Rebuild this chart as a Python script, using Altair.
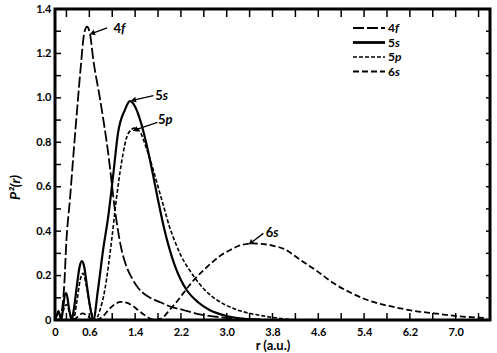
import math
import altair as alt
import pandas as pd

# ---------------- data ----------------
r_4f = [0.0, 0.08, 0.12, 0.16, 0.2, 0.26, 0.33, 0.4, 0.45, 0.51, 0.56, 0.61, 0.67, 0.79, 0.93,
        1.05, 1.16, 1.25, 1.34, 1.45, 1.6, 1.84, 2.0, 2.24, 2.45, 2.66, 3.0, 3.4, 4.0]
p_4f = [0.0, 0.0, 0.04, 0.15, 0.36, 0.54, 0.77, 0.99, 1.14, 1.29, 1.32, 1.29, 1.17, 0.99, 0.75,
        0.49, 0.32, 0.24, 0.19, 0.145, 0.11, 0.08, 0.062, 0.045, 0.03, 0.02, 0.01, 0.004, 0.0]

r_5s = [0.0, 0.03, 0.06, 0.09, 0.11, 0.14, 0.18, 0.2, 0.24, 0.29, 0.33, 0.38, 0.43, 0.47, 0.51,
        0.56, 0.62, 0.67, 0.75, 0.84, 0.93, 1.02, 1.1, 1.22, 1.31, 1.4, 1.5, 1.6, 1.7, 1.8, 1.9,
        2.0, 2.1, 2.2, 2.3, 2.5, 2.7, 3.0, 3.3, 3.6]
p_5s = [0.0, 0.02, 0.04, 0.015, 0.0, 0.05, 0.12, 0.12, 0.06, 0.0, 0.05, 0.15, 0.24, 0.265, 0.24,
        0.15, 0.05, 0.0, 0.135, 0.315, 0.465, 0.66, 0.84, 0.945, 0.985, 0.96, 0.89, 0.79, 0.67,
        0.54, 0.42, 0.32, 0.24, 0.18, 0.135, 0.08, 0.045, 0.018, 0.005, 0.0]

r_5p = [0.0, 0.08, 0.14, 0.2, 0.26, 0.32, 0.38, 0.44, 0.49, 0.55, 0.62, 0.7, 0.78, 0.87, 0.99,
        1.07, 1.16, 1.28, 1.4, 1.5, 1.6, 1.7, 1.8, 1.9, 2.0, 2.1, 2.2, 2.35, 2.5, 2.7, 2.83, 3.0,
        3.19, 3.4, 3.6, 3.9, 4.2]
p_5p = [0.0, 0.01, 0.04, 0.07, 0.03, 0.0, 0.08, 0.18, 0.21, 0.15, 0.05, 0.0, 0.04, 0.135, 0.36,
        0.54, 0.705, 0.84, 0.865, 0.84, 0.77, 0.69, 0.6, 0.51, 0.42, 0.35, 0.29, 0.225, 0.17,
        0.115, 0.09, 0.065, 0.045, 0.03, 0.02, 0.008, 0.0]

r_6s = [0.0, 0.3, 0.4, 0.48, 0.56, 0.66, 0.72, 0.85, 0.95, 1.05, 1.15, 1.25, 1.35, 1.45, 1.55,
        1.65, 1.75, 1.84, 1.92, 2.0, 2.12, 2.24, 2.36, 2.48, 2.62, 2.77, 2.92, 3.06, 3.2, 3.36,
        3.45, 3.6, 3.8, 4.0, 4.29, 4.58, 4.87, 5.15, 5.46, 5.75, 6.04, 6.3, 6.62, 6.9, 7.2, 7.55]
p_6s = [0.0, 0.0, 0.015, 0.03, 0.02, 0.002, 0.0, 0.02, 0.05, 0.072, 0.082, 0.078, 0.065, 0.045,
        0.025, 0.008, 0.0, 0.005, 0.02, 0.045, 0.08, 0.12, 0.16, 0.195, 0.23, 0.265, 0.295, 0.315,
        0.333, 0.343, 0.345, 0.343, 0.335, 0.32, 0.27, 0.22, 0.165, 0.125, 0.09, 0.068, 0.052,
        0.04, 0.03, 0.021, 0.014, 0.008]

series_num = ["4", "5", "5", "6"]
series_let = ["f", "s", "p", "s"]

x_label_values = [0, 0.6, 1.4, 2.2, 3.0, 3.8, 4.6, 5.4, 6.2, 7.0]
x_tick_values = [round(0.2 + 0.4 * i, 1) for i in range(19)]
y_label_values = [0, 0.2, 0.4, 0.6, 0.8, 1.0, 1.2, 1.4]
y_tick_values = [round(0.1 * i, 1) for i in range(1, 14)]

# annotation: text anchor (r, p), arrow start (r, p), arrow end (r, p)
ann_text_r = [1.02, 1.75, 1.80, 3.68]
ann_text_p = [1.31, 1.01, 0.90, 0.39]
ann_from_r = [0.91, 1.72, 1.79, 3.64]
ann_from_p = [1.315, 1.01, 0.89, 0.39]
ann_to_r = [0.65, 1.37, 1.40, 3.42]
ann_to_p = [1.29, 0.99, 0.856, 0.347]

# ---------------- layout / style ----------------
W, H = 435, 311
XMAX, YMAX = 7.6, 1.4
FONT = "Lato"
dashes = [[11, 3], None, [4, 2], [6, 3]]
widths = [1.8, 2.2, 1.6, 1.8]

xs = alt.Scale(domain=[0, XMAX], nice=False, zero=False)
ys = alt.Scale(domain=[0, YMAX], nice=False, zero=False)
lbl = "datum.value == 0 ? '0' : format(datum.value, '.1f')"
x_axis = alt.Axis(values=x_label_values, labelExpr=lbl, domain=False, ticks=False, grid=False,
                  labelFont=FONT, labelFontWeight="bold", labelFontSize=11, labelColor="black",
                  labelPadding=6, title="r (a.u.)", titleFont=FONT, titleFontSize=13,
                  titleFontWeight="bold", titleColor="black", titlePadding=2, labelFlush=False)
y_axis = alt.Axis(values=y_label_values, labelExpr=lbl, domain=False, ticks=False, grid=False,
                  labelFont=FONT, labelFontWeight="bold", labelFontSize=11, labelColor="black",
                  labelPadding=4, title="P²(r)", titleFont=FONT, titleFontSize=14,
                  titleFontWeight="bold", titleFontStyle="italic", titleColor="black",
                  titleX=-40, titleY=178, titleAngle=270, titleAlign="center",
                  titleBaseline="middle", labelFlush=False)

X = alt.X("r:Q", scale=xs, axis=x_axis)
Y = alt.Y("p:Q", scale=ys, axis=y_axis)

layers = []
all_r = [r_4f, r_5s, r_5p, r_6s]
all_p = [p_4f, p_5s, p_5p, p_6s]
for i in range(4):
    df = pd.DataFrame({"r": all_r[i], "p": all_p[i]})
    kw = dict(color="black", strokeWidth=widths[i], interpolate="monotone", clip=True)
    if dashes[i] is not None:
        kw["strokeDash"] = dashes[i]
    layers.append(alt.Chart(df).mark_line(**kw).encode(x=X, y=Y))

# inner ticks
bt = pd.DataFrame({"r": x_tick_values})
layers.append(alt.Chart(bt).mark_rule(color="black", strokeWidth=1.5).encode(
    x=X, y=alt.value(H), y2=alt.value(H - 7)))
layers.append(alt.Chart(bt).mark_rule(color="black", strokeWidth=1.5).encode(
    x=X, y=alt.value(0), y2=alt.value(8)))
lt = pd.DataFrame({"p": y_tick_values})
layers.append(alt.Chart(lt).mark_rule(color="black", strokeWidth=1.5).encode(
    y=Y, x=alt.value(0), x2=alt.value(6)))
layers.append(alt.Chart(lt).mark_rule(color="black", strokeWidth=1.5).encode(
    y=Y, x=alt.value(W), x2=alt.value(W - 4)))

# annotations
ann = pd.DataFrame({"r": ann_text_r, "p": ann_text_p, "num": series_num, "let": series_let})
layers.append(alt.Chart(ann).mark_text(align="left", baseline="middle", font=FONT,
                                       fontWeight="bold", fontSize=13, color="black").encode(
    x=X, y=Y, text="num:N"))
layers.append(alt.Chart(ann).mark_text(align="left", baseline="middle", font=FONT, dx=7.5,
                                       fontWeight="bold", fontStyle="italic", fontSize=13,
                                       color="black").encode(x=X, y=Y, text="let:N"))
arr = pd.DataFrame({"r": ann_from_r, "p": ann_from_p, "r2": ann_to_r, "p2": ann_to_p})
layers.append(alt.Chart(arr).mark_rule(color="black", strokeWidth=1.3).encode(
    x=X, y=Y, x2="r2:Q", y2="p2:Q"))
px_x, px_y = W / XMAX, H / YMAX
angles = []
for a, b, c, d in zip(ann_from_r, ann_from_p, ann_to_r, ann_to_p):
    dx = (c - a) * px_x
    dy = -(d - b) * px_y
    ang = math.degrees(math.atan2(dy, dx)) - 180.0
    angles.append(ang % 360)
heads = pd.DataFrame({"r": ann_to_r, "p": ann_to_p, "ang": angles})
layers.append(alt.Chart(heads).mark_point(shape="triangle-left", filled=True, color="black",
                                          size=35, opacity=1).encode(
    x=X, y=Y, angle=alt.Angle("ang:Q", scale=None)))

# legend (drawn by hand to match the reference)
leg_x0, leg_x1, leg_tx, leg_y0, leg_dy = 298, 330, 333, 19, 14.5
for i in range(4):
    yy = leg_y0 + leg_dy * i
    kw = dict(color="black", strokeWidth=widths[i] + (0.6 if i == 1 else 0))
    if dashes[i] is not None:
        kw["strokeDash"] = dashes[i]
    layers.append(alt.Chart(pd.DataFrame({"k": [0]})).mark_rule(**kw).encode(
        x=alt.value(leg_x0), x2=alt.value(leg_x1), y=alt.value(yy)))
    layers.append(alt.Chart(pd.DataFrame({"t": [series_num[i]]})).mark_text(
        align="left", baseline="middle", font=FONT, fontWeight="bold", fontSize=12,
        color="black").encode(x=alt.value(leg_tx), y=alt.value(yy), text="t:N"))
    layers.append(alt.Chart(pd.DataFrame({"t": [series_let[i]]})).mark_text(
        align="left", baseline="middle", font=FONT, fontWeight="bold", fontStyle="italic",
        fontSize=12, color="black").encode(x=alt.value(leg_tx + 7), y=alt.value(yy), text="t:N"))

chart = alt.layer(*layers).properties(
    width=W, height=H,
    padding={"left": 55, "top": 9, "right": 7, "bottom": 33},
    autosize=alt.AutoSizeParams(type="none"),
    background="white",
).configure_view(stroke="black", strokeWidth=3)

chart.save("out.html", embed_options={"renderer": "svg", "actions": False})
